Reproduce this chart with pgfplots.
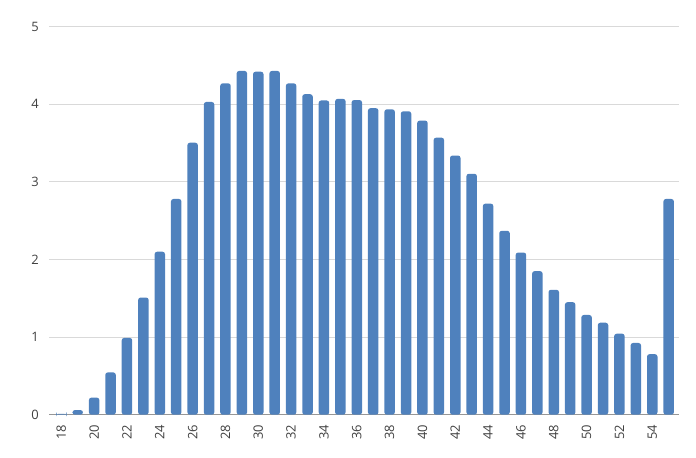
\documentclass[border=0pt]{standalone}
\usepackage{pgfplots}
\pgfplotsset{compat=1.18}
\usepackage{fontspec}
\setmainfont{Open Sans}
\definecolor{barblue}{RGB}{79,129,189}
\definecolor{txtgray}{RGB}{64,64,64}
\definecolor{gridgray}{RGB}{217,217,217}
\definecolor{axgray}{RGB}{150,150,150}
\begin{document}
\begin{tikzpicture}
\useasboundingbox (0,0) rectangle (696bp,458bp);
\begin{axis}[
  at={(49bp,43.3bp)}, anchor=south west,
  width=630bp, height=388bp, scale only axis,
  xmin=17.25, xmax=55.63, ymin=0, ymax=5,
  ytick={0,1,2,3,4,5},
  xtick={18,20,...,54},
  ymajorgrids, major grid style={gridgray, line width=1bp},
  axis x line*=bottom, axis y line*=left,
  x axis line style={axgray, line width=1bp, -},
  y axis line style={draw=none},
  major tick length=0pt,
  tick label style={font=\fontsize{13}{15}\selectfont, text=txtgray},
  /pgf/number format/assume math mode=true,
  yticklabel style={anchor=east, inner sep=0pt},
  yticklabel shift=10bp,
  xticklabel style={rotate=90, anchor=east, inner sep=0pt},
  xticklabel shift=10bp,
  ybar, bar width=10.5bp,
  clip=false,
]
\addplot[fill=barblue, draw=none, rounded corners=2.5bp] coordinates {
(18,0.012) (19,0.06) (20,0.22) (21,0.545) (22,0.99) (23,1.51) (24,2.10)
(25,2.78) (26,3.505) (27,4.03) (28,4.27) (29,4.43) (30,4.42) (31,4.43)
(32,4.27) (33,4.13) (34,4.05) (35,4.07) (36,4.055) (37,3.95) (38,3.935)
(39,3.91) (40,3.79) (41,3.57) (42,3.34) (43,3.105) (44,2.72) (45,2.37)
(46,2.09) (47,1.85) (48,1.61) (49,1.45) (50,1.285) (51,1.185) (52,1.044)
(53,0.924) (54,0.78) (55,2.78)
};
\end{axis}
\end{tikzpicture}
\end{document}
